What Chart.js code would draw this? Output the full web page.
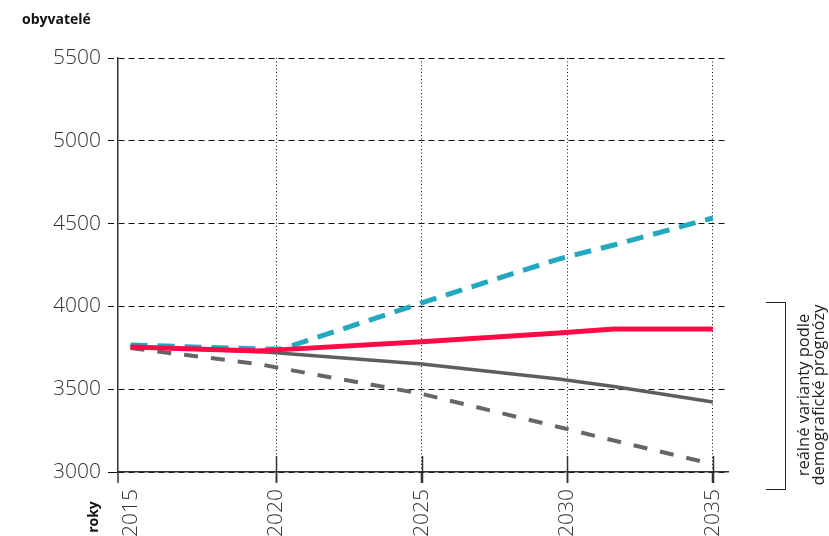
<!DOCTYPE html>
<html>
<head>
<meta charset="utf-8">
<script src="https://cdn.jsdelivr.net/npm/chart.js@4"></script>
<style>
  html, body { margin: 0; padding: 0; background: #fff; }
  #wrap { position: relative; width: 829px; height: 536px; font-family: 'Open Sans', sans-serif; }
  canvas { position: absolute; left: 0; top: 0; }
  .ylab { position: absolute; left: 22px; top: 9px; font-weight: 700; font-size: 14px; color: #111; line-height: 20px; }
  .xlab { position: absolute; left: 63px; top: 507px; width: 60px; height: 20px; line-height: 20px; text-align: center;
          font-weight: 700; font-size: 14px; color: #111; transform: rotate(-90deg); }
  .bracket { position: absolute; left: 766px; top: 302px; width: 19px; height: 186px;
             border: 1.5px solid #222; border-left: none; }
  .note { position: absolute; left: 710px; top: 380px; width: 200px; height: 30px; line-height: 15px;
          text-align: center; font-size: 16.5px; color: #222; transform: rotate(-90deg); white-space: nowrap; }
</style>
</head>
<body>
<div id="wrap">
  <canvas id="c" width="829" height="536"></canvas>
  <div class="ylab">obyvatelé</div>
  <div class="xlab">roky</div>
  <div class="bracket"></div>
  <div class="note">reálné varianty podle<br>demografické prognózy</div>
</div>
<script>
// Data
const years = [2015, 2019.4, 2020.2, 2025, 2029.7, 2031.6, 2035];
const redValues      = [3755, 3731, 3739, 3786, 3839, 3863, 3863];
const cyanValues     = [3767, 3743, 3743, 4021, 4286, 4371, 4534];
const graySolid      = [3755, 3728, 3717, 3652, 3562, 3516, 3423];
const grayDashed     = [3748, 3652, 3625, 3472, 3272, 3190, 3048];
const xTickYears = [2015, 2020, 2025, 2030, 2035];
const yTickValues = [3000, 3500, 4000, 4500, 5000, 5500];

const pts = vals => years.map((x, i) => ({ x: x, y: vals[i] }));

const tickCross = {
  id: 'tickCross',
  beforeDatasetsDraw(chart) {
    const { ctx, chartArea, scales } = chart;
    const xs = scales.x;
    ctx.save();
    ctx.strokeStyle = '#333';
    ctx.lineWidth = 1.5;
    ctx.setLineDash([]);
    xTickYears.forEach(v => {
      if (v === xTickYears[0]) return;
      const px = Math.round(xs.getPixelForValue(v)) + 0.5;
      ctx.beginPath();
      ctx.moveTo(px, chartArea.bottom - 16);
      ctx.lineTo(px, chartArea.bottom + 11);
      ctx.stroke();
    });
    // extension of the vertical axis below the horizontal axis
    ctx.beginPath();
    ctx.moveTo(chartArea.left, chartArea.bottom);
    ctx.lineTo(chartArea.left, chartArea.bottom + 11);
    ctx.stroke();
    ctx.restore();
  }
};

Chart.defaults.font.family = "'Open Sans', sans-serif";

new Chart(document.getElementById('c'), {
  type: 'line',
  data: {
    datasets: [
      { data: pts(redValues), borderColor: '#ff0a46', borderWidth: 5, pointRadius: 0, tension: 0, borderJoinStyle: 'round' },
      { data: pts(cyanValues), borderColor: '#22a9c1', borderWidth: 5, borderDash: [17, 10], pointRadius: 0, tension: 0 },
      { data: pts(graySolid), borderColor: '#5e5e5e', borderWidth: 3.5, pointRadius: 0, tension: 0 },
      { data: pts(grayDashed), borderColor: '#666666', borderWidth: 4, borderDash: [14, 13], pointRadius: 0, tension: 0 }
    ]
  },
  options: {
    responsive: false,
    animation: false,
    layout: { padding: { top: 58, right: 101, left: 0, bottom: 0 } },
    plugins: { legend: { display: false }, tooltip: { enabled: false } },
    scales: {
      x: {
        type: 'linear',
        min: 2014.57,
        max: 2035.52,
        afterBuildTicks: s => { s.ticks = xTickYears.map(v => ({ value: v })); },
        afterFit: s => { s.height = 64; },
        grid: {
          color: c => (c.tick && c.tick.value === xTickYears[0]) ? 'rgba(0,0,0,0)' : '#111',
          lineWidth: 1,
          tickLength: 11,
          tickWidth: 1.5,
          tickColor: c => (c.tick && c.tick.value === xTickYears[0]) ? 'rgba(0,0,0,0)' : '#333',
          tickBorderDash: []
        },
        border: { display: true, color: '#333', width: 1.5, dash: [1, 2.5] },
        ticks: {
          minRotation: 90, maxRotation: 90, padding: 6,
          color: '#333',
          font: { size: 21, weight: 300 },
          callback: v => String(v)
        }
      },
      y: {
        min: 3000, max: 5500,
        afterBuildTicks: s => { s.ticks = yTickValues.map(v => ({ value: v })); },
        afterFit: s => { s.width = 118; },
        grid: {
          color: '#111',
          lineWidth: 1,
          tickLength: 10,
          tickWidth: 1,
          tickColor: '#111',
          tickBorderDash: c => (c.tick && c.tick.value === yTickValues[0]) ? [] : [6, 4]
        },
        border: { display: true, color: '#333', width: 1.5, dash: [6, 4] },
        ticks: {
          padding: 7,
          color: '#333',
          font: { size: 21, weight: 300 },
          callback: v => String(v)
        }
      }
    }
  },
  plugins: [tickCross]
});
</script>
</body>
</html>
